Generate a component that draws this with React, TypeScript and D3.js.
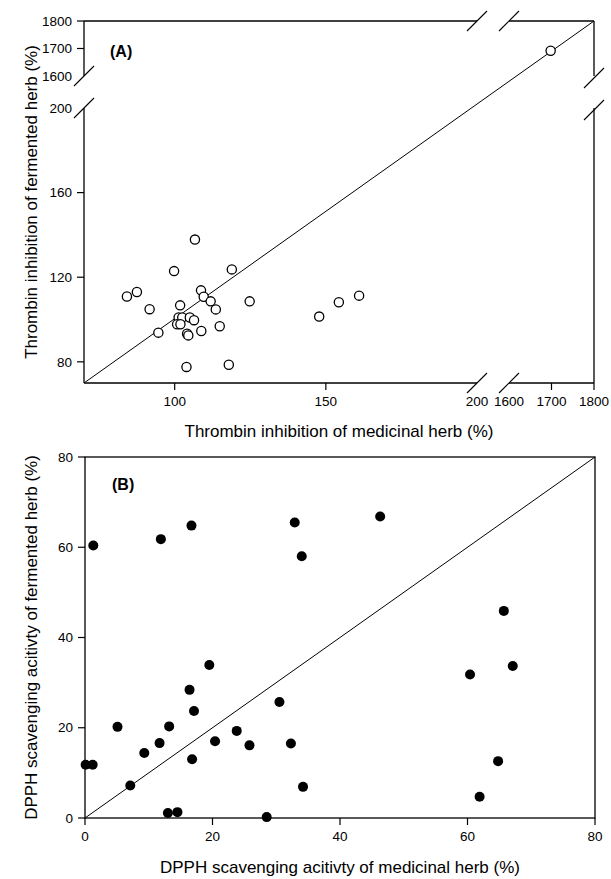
import React from "react";
import * as d3 from "d3";

// Panel A: thrombin inhibition (%)
const thrombinMedicinal = [106.7, 99.8, 118.9, 108.7, 109.6, 111.9, 113.6, 124.8, 84.2, 87.5, 91.7, 101.8, 101.3, 102.5, 105.0, 106.4, 100.8, 101.9, 94.6, 104.1, 104.5, 108.8, 114.9, 103.9, 117.9, 147.8, 154.3, 161.0, 1698];
const thrombinFermented = [137.8, 122.9, 123.7, 113.8, 110.8, 108.6, 104.8, 108.6, 110.9, 113.0, 104.9, 106.7, 101.0, 101.0, 101.0, 99.7, 97.8, 97.8, 93.8, 93.3, 92.5, 94.6, 96.8, 77.6, 78.6, 101.4, 108.2, 111.3, 1692];
const aXTicks = [100, 150, 200, 1600, 1700, 1800];
const aYTicks = [80, 120, 160, 200, 1600, 1700, 1800];
const aBreakLow = 200;
const aBreakHigh = 1600;

// Panel B: DPPH scavenging activity (%)
const dpphMedicinal = [1.3, 11.9, 16.7, 32.9, 34.0, 46.3, 65.7, 60.4, 67.1, 64.8, 61.9, 34.2, 0.1, 1.2, 5.1, 7.1, 9.3, 11.7, 13.2, 13.0, 14.5, 16.4, 17.1, 16.8, 19.5, 20.4, 23.8, 25.8, 28.5, 30.5, 32.3];
const dpphFermented = [60.4, 61.8, 64.8, 65.5, 58.0, 66.8, 45.9, 31.8, 33.7, 12.6, 4.7, 6.9, 11.8, 11.8, 20.2, 7.2, 14.4, 16.6, 20.3, 1.1, 1.3, 28.4, 23.7, 13.0, 33.9, 17.0, 19.3, 16.1, 0.2, 25.7, 16.5];
const bTicks = [0, 20, 40, 60, 80];

const FONT = "'Liberation Sans', Arial, Helvetica, sans-serif";

export default function App() {
  // Panel A scales (broken axes, piecewise linear)
  const ax = d3.scaleLinear().domain([70, aBreakLow, aBreakHigh, 1800]).range([84, 477, 509, 594]);
  const ay = d3.scaleLinear().domain([70, aBreakLow, aBreakHigh, 1800]).range([383, 108, 76, 21]);
  // Panel B scales
  const bx = d3.scaleLinear().domain([0, 80]).range([85, 595]);
  const by = d3.scaleLinear().domain([0, 80]).range([818, 457]);

  const aL = ax(70), aR = ax(1800), aT = ay(1800), aB = ay(70);
  const xb1 = ax(aBreakLow), xb2 = ax(aBreakHigh);
  const yb1 = ay(aBreakLow), yb2 = ay(aBreakHigh);

  const slash = (cx: number, cy: number, key: string) => (
    <line key={key} x1={cx - 10} y1={cy + 10} x2={cx + 10} y2={cy - 10} stroke="#000" strokeWidth={1.1} />
  );

  const line = d3.line<[number, number]>();

  const pts = thrombinMedicinal.map((v, i) => [v, thrombinFermented[i]]);
  const bpts = dpphMedicinal.map((v, i) => [v, dpphFermented[i]]);

  const bL = bx(0), bR = bx(80), bT = by(80), bB = by(0);

  return (
    <svg width={611} height={879} style={{ position: "absolute", left: 0, top: 0, background: "#fff" }} fontFamily={FONT}>
      <rect x={0} y={0} width={611} height={879} fill="#fff" />
      {/* ===== Panel A ===== */}
      <g stroke="#000" strokeWidth={1.3} fill="none">
        <path d={line([[aL, aT], [aL, yb2]]) || ""} />
        <path d={line([[aL, yb1], [aL, aB]]) || ""} />
        <path d={line([[aR, aT], [aR, yb2]]) || ""} />
        <path d={line([[aR, yb1], [aR, aB]]) || ""} />
        <path d={line([[aL, aB], [xb1, aB]]) || ""} />
        <path d={line([[xb2, aB], [aR, aB]]) || ""} />
        <path d={line([[aL, aT], [xb1, aT]]) || ""} />
        <path d={line([[xb2, aT], [aR, aT]]) || ""} />
      </g>
      {/* break marks */}
      {slash(aL, yb2, "s1")}
      {slash(aL, yb1, "s2")}
      {slash(aR, yb2 + 2, "s3")}
      {slash(aR, yb1 + 2, "s4")}
      {slash(xb1, aB, "s5")}
      {slash(xb2, aB, "s6")}
      {slash(xb1, aT, "s7")}
      {slash(xb2, aT, "s8")}
      {/* identity line */}
      <line x1={ax(70)} y1={ay(70)} x2={ax(1800)} y2={ay(1800)} stroke="#000" strokeWidth={1} />
      {aYTicks.map((t) => (
        <g key={"ay" + t}>
          {t !== aBreakLow && t !== aBreakHigh && (
            <line x1={aL - 7} x2={aL} y1={ay(t)} y2={ay(t)} stroke="#000" strokeWidth={1.2} />
          )}
          <text x={aL - 12} y={ay(t)} dy="0.35em" textAnchor="end" fontSize={13.5}>
            {t}
          </text>
        </g>
      ))}
      {aXTicks.map((t) => (
        <g key={"ax" + t}>
          {t !== aBreakLow && t !== aBreakHigh && (
            <line x1={ax(t)} x2={ax(t)} y1={aB} y2={aB + 7} stroke="#000" strokeWidth={1.2} />
          )}
          <text x={ax(t)} y={aB + 23} textAnchor="middle" fontSize={13.5}>
            {t}
          </text>
        </g>
      ))}
      {pts.map((p, i) => (
        <circle key={"pa" + i} cx={ax(p[0])} cy={ay(p[1])} r={4.6} fill="#fff" stroke="#000" strokeWidth={1.3} />
      ))}
      <text x={110} y={57} fontSize={16} fontWeight="bold">(A)</text>
      <text x={(aL + aR) / 2} y={437} textAnchor="middle" fontSize={17}>
        Thrombin inhibition of medicinal herb (%)
      </text>
      <text transform={`translate(37,${(aT + aB) / 2}) rotate(-90)`} textAnchor="middle" fontSize={17}>
        Thrombin inhibition of fermented herb (%)
      </text>

      {/* ===== Panel B ===== */}
      <rect x={bL} y={bT} width={bR - bL} height={bB - bT} fill="none" stroke="#000" strokeWidth={1.3} />
      <line x1={bx(0)} y1={by(0)} x2={bx(80)} y2={by(80)} stroke="#000" strokeWidth={1} />
      {bTicks.map((t) => (
        <g key={"by" + t}>
          <line x1={bL - 7} x2={bL} y1={by(t)} y2={by(t)} stroke="#000" strokeWidth={1.2} />
          <text x={bL - 12} y={by(t)} dy="0.35em" textAnchor="end" fontSize={13.5}>
            {t}
          </text>
        </g>
      ))}
      {bTicks.map((t) => (
        <g key={"bx" + t}>
          <line x1={bx(t)} x2={bx(t)} y1={bB} y2={bB + 7} stroke="#000" strokeWidth={1.2} />
          <text x={bx(t)} y={bB + 23} textAnchor="middle" fontSize={13.5}>
            {t}
          </text>
        </g>
      ))}
      {bpts.map((p, i) => (
        <circle key={"pb" + i} cx={bx(p[0])} cy={by(p[1])} r={5} fill="#000" />
      ))}
      <text x={112} y={490} fontSize={16} fontWeight="bold">(B)</text>
      <text x={(bL + bR) / 2} y={873} textAnchor="middle" fontSize={17}>
        DPPH scavenging acitivty of medicinal herb (%)
      </text>
      <text transform={`translate(37,${(bT + bB) / 2}) rotate(-90)`} textAnchor="middle" fontSize={17}>
        DPPH scavenging acitivty of fermented herb (%)
      </text>
    </svg>
  );
}
